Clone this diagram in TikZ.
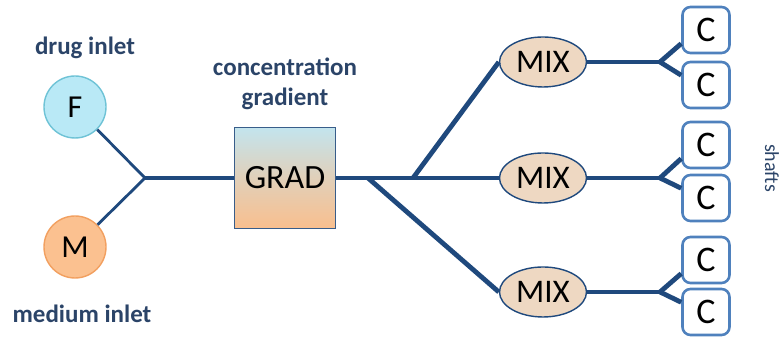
\documentclass[tikz,border=0pt]{standalone}
\usepackage{fontspec}
\setmainfont{Carlito}
\usetikzlibrary{positioning,shapes.geometric,calc}
\definecolor{pipe}{HTML}{1F497D}
\definecolor{labelblue}{HTML}{2B4468}
\definecolor{drugfill}{HTML}{B9E9F6}
\definecolor{drugline}{HTML}{6FC3D6}
\definecolor{medfill}{HTML}{FBC190}
\definecolor{medline}{HTML}{F2A060}
\definecolor{gradtop}{HTML}{C3E4EE}
\definecolor{gradbot}{HTML}{F9BF8E}
\definecolor{gradline}{HTML}{385D8A}
\definecolor{mixtan}{HTML}{EED8C2}
\definecolor{shaftblue}{HTML}{4F81BD}

\begin{document}
\begin{tikzpicture}[x=0.5pt, y=0.5pt,
  labeltext/.style={text=labelblue, font=\fontsize{12.5}{15}\selectfont\bfseries, align=center},
  inlet/.style={circle, minimum size=31pt, inner sep=0pt, line width=0.7pt, font=\fontsize{16}{16}\selectfont},
  mixer/.style={ellipse, draw=pipe, line width=0.7pt, fill=mixtan, minimum width=43.5pt, minimum height=25pt, inner sep=0pt, font=\fontsize{16.5}{17}\selectfont},
  shaft/.style={rectangle, rounded corners=4pt, draw=shaftblue, line width=1.3pt, fill=white, minimum width=23.5pt, minimum height=23pt, inner sep=0pt, font=\fontsize{18}{18}\selectfont},
  thinpipe/.style={draw=pipe, line width=1.4pt},
  thickpipe/.style={draw=pipe, line width=2.4pt}]

\useasboundingbox (0,0) rectangle (782,340);

%%% INLETS
\node [inlet, draw=drugline, fill=drugfill] (drug) at (75,233) {F};
\node [inlet, draw=medline, fill=medfill] (medium) at (75,93) {M};
\node [labeltext] (drug-label) at (85,292) {drug inlet};
\node [labeltext] (medium-label) at (82,26) {medium inlet};
\coordinate (inlet-join) at (145,162);

%%% GRADIENT
\node [rectangle, draw=gradline, line width=0.7pt, top color=gradtop, bottom color=gradbot, middle color=gradtop!45!gradbot, minimum size=50.5pt, inner sep=0pt, font=\fontsize{17}{17}\selectfont] (grad) at (285,162) {GRAD};
\node [labeltext, above=5pt of grad] (grad-label) {concentration\\gradient};

%%% MIXERS
\node [mixer] (mix1) at (543,278) {MIX};
\node [mixer] (mix2) at (543,162) {MIX};
\node [mixer] (mix3) at (543,48) {MIX};
\coordinate (split-low) at (368,162);
\coordinate (split-up) at (413,162);

%%% SHAFTS
\node [shaft] (c11) at (706,310) {C};
\node [shaft] (c12) at (706,255) {C};
\node [shaft] (c21) at (706,195) {C};
\node [shaft] (c22) at (706,142) {C};
\node [shaft] (c31) at (706,80) {C};
\node [shaft] (c32) at (706,28) {C};
\node [text=labelblue, font=\fontsize{10}{11}\selectfont, rotate=-90] (shafts-label) at (772,172) {shafts};

%%% connections
\draw [thinpipe] (drug) -- (inlet-join);
\draw [thinpipe] (medium) -- (inlet-join);
\draw [thickpipe] (inlet-join) -- (grad.west);
\draw [thickpipe] (grad.east) -- (mix2.west);
\draw [thickpipe] (split-low) -- (mix3.west);
\draw [thickpipe] (split-up) -- (mix1.west);

\foreach \g in {1,2,3} {
  \path (mix\g.center) ++(117,0) coordinate (fork\g);
  \draw [thickpipe, line width=2pt] (mix\g.east) -- (fork\g);
  \draw [thickpipe] (fork\g) -- ($(c\g1.south west)!0.22!(c\g1.north west)$);
  \draw [thickpipe] (fork\g) -- ($(c\g2.north west)!0.3!(c\g2.south west)$);
}

\end{tikzpicture}
\end{document}
